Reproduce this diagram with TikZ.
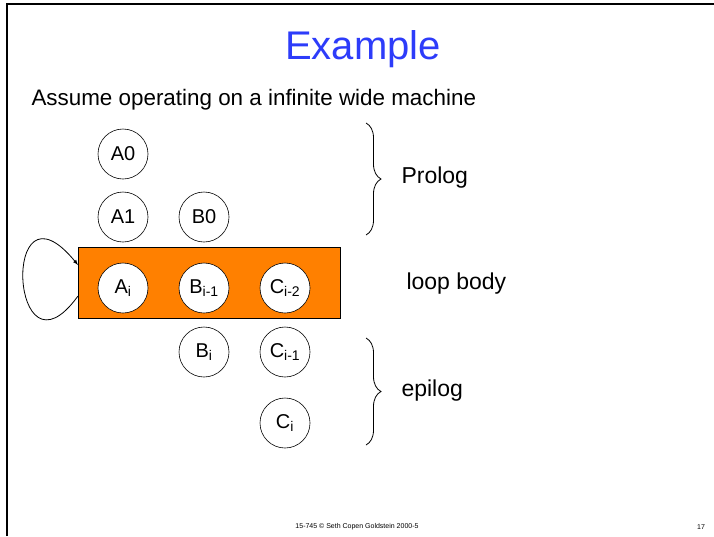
\documentclass[tikz,border=0pt]{standalone}
\usepackage{fontspec}
\setmainfont{Liberation Sans}
\usetikzlibrary{decorations.pathreplacing}
\definecolor{titleblue}{RGB}{45,60,250}
\definecolor{bodyorange}{RGB}{255,128,0}

\begin{document}
\begin{tikzpicture}[x=1pt, y=-1pt,
  op/.style={draw, semithick, circle, fill=white, minimum size=50pt, inner sep=0pt, font=\fontsize{20}{20}\selectfont},
  brc/.style={decorate, decoration={brace, amplitude=15pt}, thick},
  lbl/.style={font=\fontsize{23}{25}\selectfont, anchor=west}]
\useasboundingbox (0,0) rectangle (714,536);
\draw[line width=1.6pt] (7,536) -- (7,4) -- (714,4);

\node[text=titleblue, font=\fontsize{40}{42}\selectfont] (title) at (363,49){Example};
\node[font=\fontsize{22.4}{24}\selectfont, anchor=west] (assume) at (28,100){Assume operating on a infinite wide machine};

\node[draw, semithick, rectangle, fill=bodyorange, minimum width=262pt, minimum height=71pt] (body) at (209,282.5){};

\node[op] (a0) at (123,154){A0};
\node[op] (a1) at (123,217){A1};
\node[op] (b0) at (204,217){B0};
\node[op] (ai) at (123,288){A\textsubscript{i}};
\node[op] (bim1) at (204,288){B\textsubscript{i-1}};
\node[op] (cim2) at (285,288){C\textsubscript{i-2}};
\node[op] (bi) at (204,352){B\textsubscript{i}};
\node[op] (cim1) at (285,352){C\textsubscript{i-1}};
\node[op] (ci) at (285,423){C\textsubscript{i}};

% back edge of the loop
\coordinate (loopout) at (78,296);
\coordinate (loopin) at (78,265);
\draw[thick, -latex] (loopout) .. controls (10,390) and (0,170) .. (loopin);

\draw[brc] (366,123) -- (366,235);
\draw[brc] (366,338) -- (366,445);

\node[lbl] (prolog) at (398,178){Prolog};
\node[lbl] (loopbody) at (403,284){loop body};
\node[lbl] (epilog) at (398,391){epilog};

\node[font=\fontsize{7}{8}\selectfont] (footer) at (357,527){15-745 © Seth Copen Goldstein 2000-5};
\node[font=\fontsize{7}{8}\selectfont] (pagenum) at (701,527){17};
\end{tikzpicture}
\end{document}
